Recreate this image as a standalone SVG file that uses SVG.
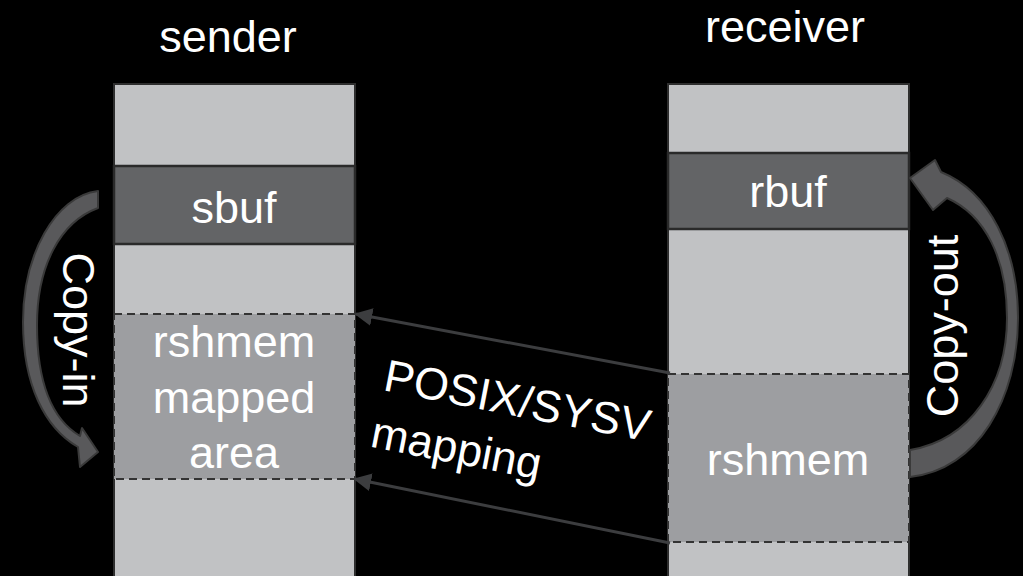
<svg xmlns="http://www.w3.org/2000/svg" width="1023" height="576" viewBox="0 0 1023 576">
  <defs>
    <style>
      .lbl { font-family: "Liberation Sans", Arial, sans-serif; font-size: 45px; fill: #ffffff; }
      .mid { text-anchor: middle; }
      .mem { fill: #c1c2c4; stroke: #2e2e2e; stroke-width: 2; }
      .buf { fill: #636466; stroke: #2a2a2a; stroke-width: 2.5; }
      .shm { fill: #9d9ea1; stroke: #333333; stroke-width: 2; stroke-dasharray: 8 5; }
      .link { fill: none; stroke: #3c3d3f; stroke-width: 3; }
      .bend { fill: #59595b; stroke: #3a3a3a; stroke-width: 2; stroke-linejoin: round; }
    </style>
    <marker id="head" viewBox="0 0 10 10" refX="9" refY="5" markerWidth="6" markerHeight="6" orient="auto-start-reverse" markerUnits="strokeWidth">
      <path d="M0,0 L10,5 L0,10 Z" fill="#3c3d3f"/>
    </marker>
  </defs>

  <rect width="1023" height="576" fill="#000000"/>

  <!-- sender address space -->
  <g id="sender">
    <rect class="mem" x="114" y="84" width="241" height="500"/>
    <text class="lbl mid" x="228" y="52">sender</text>
  </g>
  <g id="sbuf">
    <rect class="buf" x="114" y="166" width="241" height="78"/>
    <text class="lbl mid" x="234" y="223">sbuf</text>
  </g>
  <g id="mapped-area">
    <rect class="shm" x="114" y="314" width="241" height="165"/>
    <text class="lbl mid" x="234" y="357">rshmem</text>
    <text class="lbl mid" x="234" y="413">mapped</text>
    <text class="lbl mid" x="234" y="468">area</text>
  </g>

  <!-- receiver address space -->
  <g id="receiver">
    <rect class="mem" x="668" y="84" width="241" height="500"/>
    <text class="lbl mid" x="785" y="42">receiver</text>
  </g>
  <g id="rbuf">
    <rect class="buf" x="668" y="153" width="241" height="76"/>
    <text class="lbl mid" x="788" y="207">rbuf</text>
  </g>
  <g id="rshmem">
    <rect class="shm" x="668" y="374" width="241" height="168"/>
    <text class="lbl mid" x="788" y="475">rshmem</text>
  </g>

  <!-- connectors -->
  <g id="connectors">
    <line class="link" x1="670" y1="373" x2="356" y2="314" marker-end="url(#head)"/>
    <line class="link" x1="670" y1="543" x2="355" y2="479" marker-end="url(#head)"/>
    <text class="lbl" transform="translate(382,390) rotate(11)">
      <tspan x="0" y="0">POSIX/SYSV</tspan>
      <tspan x="-2" y="58">mapping</tspan>
    </text>

    <!-- copy-in bend arrow -->
    <path class="bend" d="M98,191 C55,196 23,255 23,322 C23,385 45,428 78,447 L80,467 L98,452 L82,428 L80,436 C53,420 37,385 37,325 C37,266 60,222 98,208 Z"/>
    <text class="lbl mid" transform="translate(63,330) rotate(90)">Copy-in</text>

    <!-- copy-out bend arrow -->
    <path class="bend" d="M910,450 C970,440 1007,385 1007,318 C1007,258 985,215 947,198 L933,210 L910,178 L935,160 L941,172 C990,192 1018,250 1018,318 C1018,398 978,470 910,477 Z"/>
    <text class="lbl mid" transform="translate(958,326) rotate(-90)">Copy-out</text>
  </g>
</svg>
